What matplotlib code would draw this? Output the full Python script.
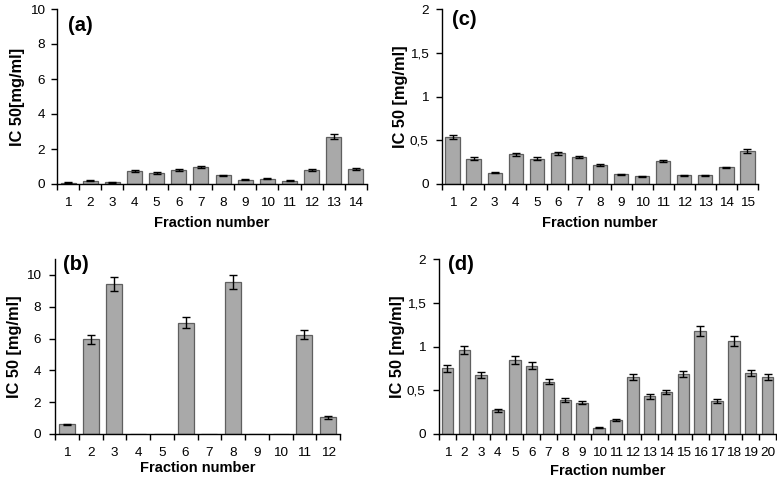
import numpy as np
import matplotlib.pyplot as plt
from matplotlib.ticker import FuncFormatter

plt.rcParams['font.family'] = ['Liberation Sans', 'DejaVu Sans']

# (a)
a_vals = [0.07, 0.18, 0.10, 0.75, 0.65, 0.82, 0.95, 0.50, 0.25, 0.30, 0.20, 0.82, 2.70, 0.85]
a_err = [0.02, 0.03, 0.02, 0.05, 0.05, 0.05, 0.06, 0.04, 0.03, 0.03, 0.03, 0.05, 0.15, 0.05]
# (b)
b_vals = [0.60, 5.95, 9.45, 0, 0, 7.00, 0, 9.55, 0, 0, 6.25, 1.05]
b_err = [0.04, 0.30, 0.45, 0, 0, 0.35, 0, 0.45, 0, 0, 0.30, 0.08]
# (c)
c_vals = [0.54, 0.29, 0.13, 0.34, 0.29, 0.35, 0.31, 0.22, 0.11, 0.09, 0.26, 0.10, 0.10, 0.19, 0.38]
c_err = [0.025, 0.015, 0.008, 0.018, 0.015, 0.018, 0.015, 0.012, 0.006, 0.005, 0.012, 0.005, 0.005, 0.01, 0.02]
# (d)
d_vals = [0.75, 0.96, 0.67, 0.27, 0.85, 0.78, 0.60, 0.39, 0.36, 0.07, 0.16, 0.65,
          0.43, 0.48, 0.69, 1.18, 0.38, 1.06, 0.70, 0.65]
d_err = [0.04, 0.05, 0.035, 0.015, 0.045, 0.04, 0.03, 0.025, 0.02, 0.005, 0.01, 0.035,
         0.025, 0.025, 0.035, 0.06, 0.02, 0.055, 0.035, 0.035]

W, H = 777, 480


def comma_fmt(v, pos):
    return ('%g' % v).replace('.', ',')


def panel(box, vals, err, ylim, yticks, ylabel, tag, tag_pos, ylab_x, xlab_pad,
          ypad, comma=False):
    l, t, r, b = box
    ax = plt.gcf().add_axes([l / W, 1 - b / H, (r - l) / W, (b - t) / H])
    n = len(vals)
    x = np.arange(1, n + 1)
    ax.bar(x, vals, width=0.68, color='#a9a9a9', edgecolor='#5f5f5f', linewidth=0.9)
    for xi, v, e in zip(x, vals, err):
        if v > 0:
            ax.errorbar(xi, v, yerr=e, fmt='none', ecolor='black', elinewidth=1.0,
                        capsize=3.2, capthick=1.0)
    ax.set_xlim(0.5, n + 0.5)
    ax.set_ylim(*ylim)
    ax.set_yticks(yticks)
    if comma:
        ax.yaxis.set_major_formatter(FuncFormatter(comma_fmt))
    # tick marks between bars, labels under bars
    ax.set_xticks(np.arange(0.5, n + 1.0, 1.0))
    ax.set_xticklabels([])
    ax.set_xticks(x, minor=True)
    ax.set_xticklabels([str(i) for i in x], minor=True)
    ax.tick_params(axis='x', which='major', direction='out', length=4, width=1)
    ax.tick_params(axis='x', which='minor', length=0, labelsize=9.7, pad=9)
    ax.tick_params(axis='y', direction='out', length=4, width=1, labelsize=9.7, pad=ypad)
    for s in ['top', 'right']:
        ax.spines[s].set_visible(False)
    for s in ['left', 'bottom']:
        ax.spines[s].set_linewidth(1.0)
    ax.set_xlabel('Fraction number', fontsize=10.5, fontweight='bold', labelpad=xlab_pad)
    ax.set_ylabel(ylabel, fontsize=11.8, fontweight='bold')
    ax.yaxis.set_label_coords((ylab_x - l) / (r - l), 0.5)
    ax.text(tag_pos[0], tag_pos[1], tag, transform=ax.transAxes, fontsize=14.5,
            fontweight='bold', va='center', ha='left')
    return ax


fig = plt.figure(figsize=(W / 100, H / 100), dpi=100)

panel((57, 9, 367, 184), a_vals, a_err, (0, 10), [0, 2, 4, 6, 8, 10],
      'IC 50[mg/ml]', '(a)', (0.035, 0.905), 25, 5.6, 4.5)
panel((442, 9, 758, 184), c_vals, c_err, (0, 2), [0, 0.5, 1, 1.5, 2],
      'IC 50 [mg/ml]', '(c)', (0.032, 0.94), 408, 5.6, 5.5, comma=True)
panel((55, 259, 340, 434), b_vals, b_err, (0, 11), [0, 2, 4, 6, 8, 10],
      'IC 50 [mg/ml]', '(b)', (0.028, 0.97), 22, 2, 6)
panel((439, 259, 776, 434), d_vals, d_err, (0, 2), [0, 0.5, 1, 1.5, 2],
      'IC 50 [mg/ml]', '(d)', (0.027, 0.97), 405, 4.2, 5.5, comma=True)

fig.savefig('out.png', dpi=100)
